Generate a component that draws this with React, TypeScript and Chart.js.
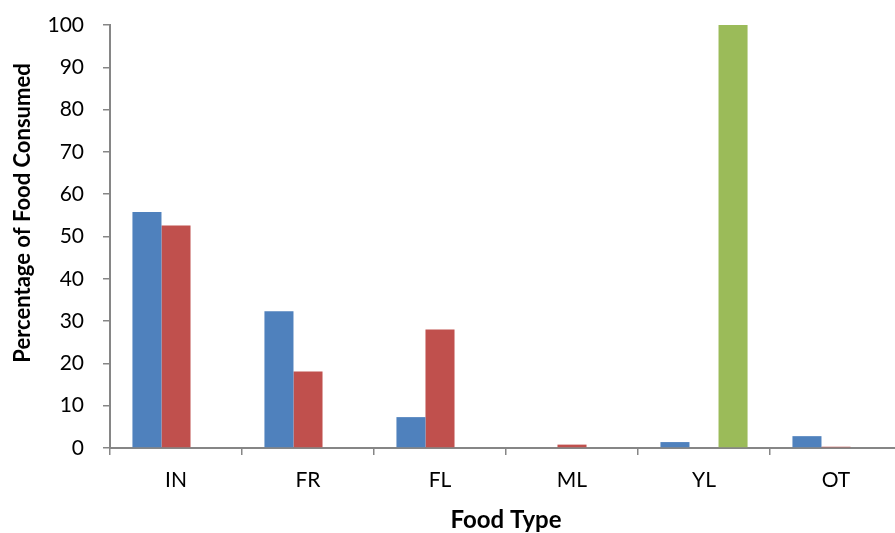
import React, { useEffect, useRef } from "react";
import { Chart, registerables } from "chart.js";

Chart.register(...registerables);

const categories = ["IN", "FR", "FL", "ML", "YL", "OT"];
const seriesBlue = [55.8, 32.3, 7.3, 0, 1.4, 2.8];
const seriesRed = [52.6, 18.1, 28.0, 0.8, 0, 0.3];
const seriesGreen = [0, 0, 0, 0, 100, 0];
const yTicks = [0, 10, 20, 30, 40, 50, 60, 70, 80, 90, 100];
const yTitle = "Percentage of Food Consumed";
const xTitle = "Food Type";

const FONT = "Lato";
const AXIS_GRAY = "#868686";

const yTitlePlugin = {
  id: "yTitlePlugin",
  afterDraw(chart: any) {
    const ctx = chart.ctx;
    ctx.save();
    ctx.translate(23, 213);
    ctx.rotate(-Math.PI / 2);
    ctx.font = `bold 22px ${FONT}`;
    ctx.fillStyle = "#000";
    ctx.textAlign = "center";
    ctx.textBaseline = "middle";
    ctx.fillText(yTitle, 0, 0);
    ctx.restore();
  },
};

export default function App() {
  const ref = useRef<HTMLCanvasElement | null>(null);

  useEffect(() => {
    if (!ref.current) return;
    const chart = new Chart(ref.current, {
      type: "bar",
      data: {
        labels: categories,
        datasets: [
          { label: "Series 1", data: seriesBlue, backgroundColor: "#4F81BD", borderWidth: 0 },
          { label: "Series 2", data: seriesRed, backgroundColor: "#C0504D", borderWidth: 0 },
          { label: "Series 3", data: seriesGreen, backgroundColor: "#9BBB59", borderWidth: 0 },
        ],
      },
      plugins: [yTitlePlugin],
      options: {
        responsive: false,
        animation: false,
        devicePixelRatio: 1,
        layout: { padding: { top: 25, left: 0, right: 3, bottom: 0 } },
        plugins: { legend: { display: false }, tooltip: { enabled: false } },
        datasets: { bar: { categoryPercentage: 0.66, barPercentage: 1 } },
        scales: {
          x: {
            grid: {
              offset: true,
              drawOnChartArea: false,
              drawTicks: true,
              tickLength: 7,
              color: AXIS_GRAY,
              lineWidth: 1.5,
            },
            border: { color: AXIS_GRAY, width: 2 },
            ticks: { color: "#000", font: { family: FONT, size: 21 }, padding: 13, maxRotation: 0 },
            title: {
              display: true,
              text: xTitle,
              color: "#000",
              font: { family: FONT, size: 24, weight: "bold" },
              padding: { top: 0, bottom: -2 },
            },
            afterFit: (s: any) => {
              s.height = 85;
              s.paddingLeft = 0;
              s.paddingRight = 0;
            },
          },
          y: {
            min: 0,
            max: 100,
            afterBuildTicks: (s: any) => {
              s.ticks = yTicks.map((v) => ({ value: v }));
            },
            grid: {
              drawOnChartArea: false,
              drawTicks: true,
              tickLength: 7,
              color: AXIS_GRAY,
              lineWidth: 1.5,
            },
            border: { color: AXIS_GRAY, width: 2 },
            ticks: { color: "#000", font: { family: FONT, size: 21 }, padding: 19 },
            title: { display: false },
            afterFit: (s: any) => {
              s.width = 110;
              s.paddingTop = 0;
              s.paddingBottom = 0;
            },
          },
        },
      },
    });
    return () => chart.destroy();
  }, []);

  return (
    <div
      style={{
        position: "fixed",
        left: 0,
        top: 0,
        width: 895,
        height: 533,
        overflow: "hidden",
        background: "#fff",
      }}
    >
      <canvas ref={ref} width={905} height={533} style={{ display: "block" }} />
    </div>
  );
}
